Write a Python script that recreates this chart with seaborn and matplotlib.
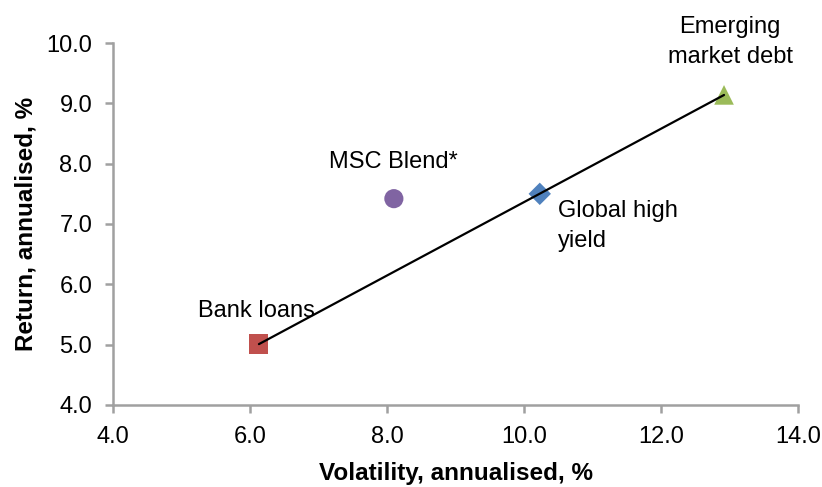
import matplotlib
matplotlib.use("Agg")
import matplotlib.pyplot as plt
import seaborn as sns
import numpy as np
import pandas as pd

names = ["Bank loans", "MSC Blend*", "Global high yield", "Emerging market debt"]
volatility = [6.13, 8.10, 10.23, 12.92]
returns = [5.01, 7.42, 7.50, 9.14]
labels = ["Bank loans", "MSC Blend*", "Global high\nyield", "Emerging\nmarket debt"]
xticks = [4.0, 6.0, 8.0, 10.0, 12.0, 14.0]
yticks = [4.0, 5.0, 6.0, 7.0, 8.0, 9.0, 10.0]

sns.set_style("white")
plt.rcParams['font.family'] = ['Liberation Sans', 'DejaVu Sans']
plt.rcParams['text.color'] = 'black'
plt.rcParams['axes.labelcolor'] = 'black'

df = pd.DataFrame({"name": names, "vol": volatility, "ret": returns})
palette = {"Bank loans": "#C0504D", "MSC Blend*": "#8064A2",
           "Global high yield": "#4F81BD", "Emerging market debt": "#9BBB59"}
markers = {"Bank loans": "s", "MSC Blend*": "o",
           "Global high yield": "D", "Emerging market debt": "^"}
sizes = {"Bank loans": 190, "MSC Blend*": 190,
         "Global high yield": 130, "Emerging market debt": 200}

fig = plt.figure(figsize=(8.22, 4.87), dpi=100)
ax = fig.add_axes([0.1375, 0.1684, 0.8333, 0.7433])

sns.scatterplot(data=df, x="vol", y="ret", hue="name", style="name",
                size="name", sizes=sizes,
                palette=palette, markers=markers, edgecolor="none",
                legend=False, ax=ax, zorder=3)

# linear trend through the non-blend assets
fit = df[df["name"] != "MSC Blend*"]
k, b = np.polyfit(fit["vol"], fit["ret"], 1)
xs = np.array([fit["vol"].min(), fit["vol"].max()])
ax.plot(xs, k * xs + b, color="black", lw=1.6, zorder=4)

ax.set_xlim(4, 14)
ax.set_ylim(4, 10)
ax.set_xticks(xticks)
ax.set_yticks(yticks)
ax.set_xticklabels([f"{t:.1f}" for t in xticks], fontsize=17)
ax.set_yticklabels([f"{t:.1f}" for t in yticks], fontsize=17)
ax.set_xlabel("Volatility, annualised, %", fontsize=17.5, fontweight="bold", labelpad=10)
ax.set_ylabel("Return, annualised, %", fontsize=17.5, fontweight="bold", labelpad=6)

for s in ["top", "right"]:
    ax.spines[s].set_visible(False)
for s in ["left", "bottom"]:
    ax.spines[s].set_color("#A0A0A0")
    ax.spines[s].set_linewidth(1.8)
ax.tick_params(axis="both", direction="out", length=6, width=1.8, color="#A0A0A0",
               labelcolor="black", bottom=True, left=True)
ax.tick_params(axis="x", pad=9)
ax.tick_params(axis="y", pad=9)

ax.text(6.09, 5.56, labels[0], ha="center", va="center", fontsize=17)
ax.text(8.10, 8.03, labels[1], ha="center", va="center", fontsize=17)
ax.text(10.50, 6.97, labels[2], ha="left", va="center", fontsize=17, linespacing=1.45)
ax.text(13.01, 10.02, labels[3], ha="center", va="center", fontsize=17,
        linespacing=1.5, clip_on=False)

fig.savefig("out.png", dpi=100)
